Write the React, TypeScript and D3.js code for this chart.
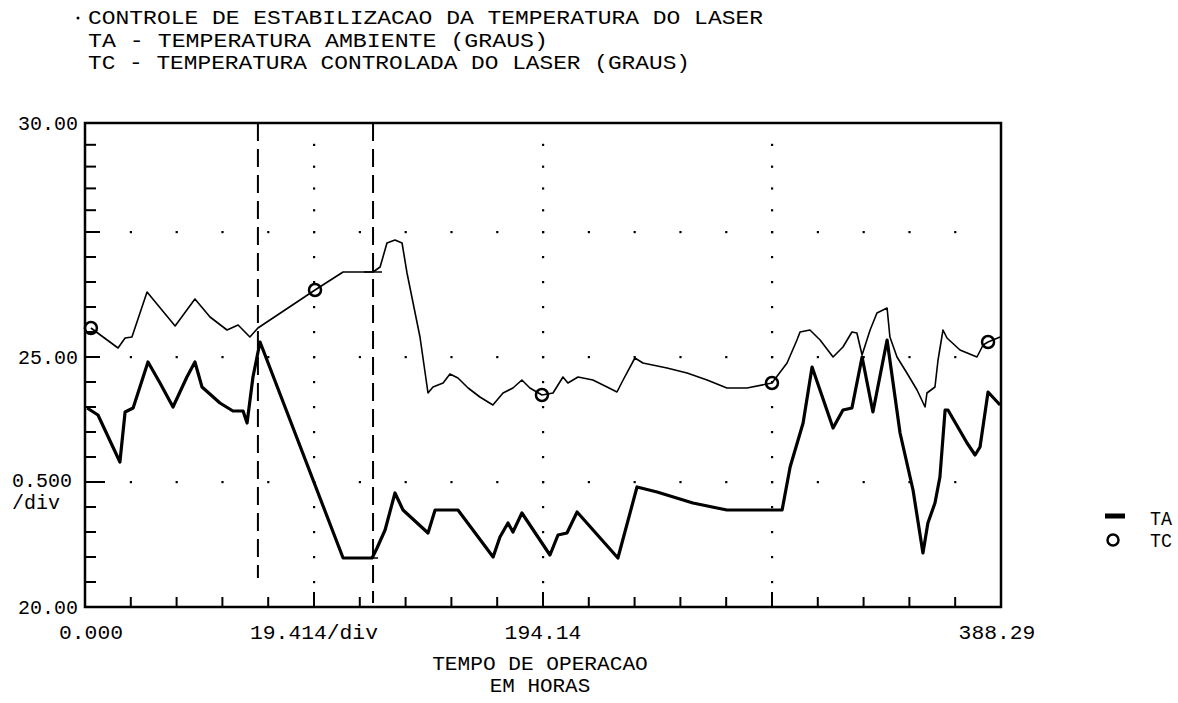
import React from "react";
import * as d3 from "d3";

const width = 1178;
const height = 703;
const plot = { left: 85, right: 1001, top: 123, bottom: 607 };

const titleLines = [
  "CONTROLE DE ESTABILIZACAO DA TEMPERATURA DO LASER",
  "TA - TEMPERATURA AMBIENTE (GRAUS)",
  "TC - TEMPERATURA CONTROLADA DO LASER (GRAUS)"
];
const xAxisTitle = ["TEMPO DE OPERACAO", "EM HORAS"];

const xMax = 388.29;
const xDiv = 19.414;
const yDiv = 0.5;
const xLabels = ["0.000", "19.414/div", "194.14", "388.29"];
const xLabelAt = [0, 97.07, 194.14, 388.29];
const yLabels = ["30.00", "25.00", "20.00"];
const yLabelAt = [30, 25, 20];
const cursors = [73.3, 122.1];

// TA - temperatura ambiente (hours, degrees)
const taHours = [0.9, 5.5, 14.8, 17.0, 20.4, 26.7, 31.8, 37.3, 43.2, 46.6, 49.6, 57.2, 62.7, 67.0, 68.7, 71.2, 74.2,
  109.4, 121.7, 123.8, 127.2, 131.4, 134.8, 145.4, 148.4, 158.1, 173.0, 175.9, 179.3, 181.4, 185.2, 197.1, 200.5,
  204.3, 208.6, 225.9, 234.0, 242.5, 257.7, 272.1, 295.5, 298.9, 304.4, 308.2, 317.1, 321.3, 325.1, 329.4, 334.0,
  340.0, 345.5, 351.0, 355.2, 357.3, 360.3, 362.4, 364.6, 365.8, 373.9, 377.3, 379.4, 382.8, 387.9];
const taTemp = [23.98, 23.84, 22.9, 23.9, 23.98, 24.9, 24.48, 24.0, 24.6, 24.9, 24.4, 24.08, 23.92, 23.92, 23.68, 24.6, 25.3,
  20.98, 20.98, 21.18, 21.54, 22.28, 21.94, 21.48, 21.94, 21.94, 21.0, 21.4, 21.68, 21.5, 21.88, 21.04, 21.44,
  21.48, 21.9, 20.98, 22.4, 22.3, 22.08, 21.94, 21.94, 22.8, 23.68, 24.8, 23.58, 23.94, 23.98, 25.0, 23.9,
  25.34, 23.48, 22.34, 21.08, 21.68, 22.08, 22.6, 23.94, 23.94, 23.28, 23.04, 23.2, 24.3, 24.04];

// TC - temperatura controlada do laser
const tcHours = [2.5, 14.0, 17.0, 19.9, 26.3, 38.2, 46.6, 53.0, 60.2, 64.9, 69.9, 73.3, 97.5, 109.4, 122.1, 125.1, 128.0,
  131.4, 134.4, 136.5, 142.0, 145.4, 147.5, 151.8, 154.7, 158.1, 162.4, 167.4, 172.9, 177.2, 181.4, 185.2, 188.6,
  193.7, 198.4, 202.6, 204.7, 209.0, 215.3, 221.3, 225.5, 228.1, 233.1, 236.5, 246.7, 255.2, 263.7, 272.1, 280.6,
  291.2, 297.6, 301.8, 303.1, 307.3, 311.6, 317.1, 321.3, 325.1, 327.2, 329.4, 332.8, 335.7, 340.0, 341.2, 344.2,
  348.4, 352.7, 356.1, 356.9, 360.3, 361.6, 363.7, 365.4, 370.9, 378.1, 380.7, 382.8, 387.9];
const tcTemp = [25.58, 25.18, 25.38, 25.4, 26.3, 25.62, 26.16, 25.8, 25.54, 25.64, 25.4, 25.58, 26.34, 26.7, 26.7, 26.8, 27.28,
  27.34, 27.28, 26.68, 25.4, 24.28, 24.4, 24.48, 24.66, 24.58, 24.38, 24.2, 24.04, 24.28, 24.38, 24.54, 24.38,
  24.24, 24.28, 24.6, 24.48, 24.6, 24.54, 24.4, 24.3, 24.54, 24.98, 24.88, 24.78, 24.68, 24.54, 24.38, 24.38,
  24.48, 24.88, 25.34, 25.5, 25.54, 25.34, 25.0, 25.2, 25.5, 25.48, 25.04, 25.54, 25.88, 25.98, 25.4, 25.0,
  24.68, 24.34, 24.0, 24.28, 24.4, 24.94, 25.54, 25.38, 25.14, 25.0, 25.24, 25.3, 25.4];
const tcMarkers = [0, 12, 33, 49, 76];

const font = "'Liberation Mono', 'DejaVu Sans Mono', monospace";

export default function App() {
  const x = d3.scaleLinear().domain([0, xMax]).range([plot.left, plot.right]);
  // the plotter's upper quarter is slightly compressed
  const y = d3.scaleLinear().domain([20, 27.5, 30]).range([plot.bottom, 232, plot.top]);

  const xTicks = d3.range(0, 21).map((i) => i * xDiv);
  const yTicks = d3.range(0, 21).map((i) => 20 + i * yDiv);

  const line = d3
    .line<[number, number]>()
    .x((d) => x(d[0]))
    .y((d) => y(d[1]));

  const ta = taHours.map((h, i) => [h, taTemp[i]] as [number, number]);
  const tc = tcHours.map((h, i) => [h, tcTemp[i]] as [number, number]);

  const gridX = [5, 10, 15].map((i) => i * xDiv);
  const gridY = [22.5, 25, 27.5];
  const dots: { cx: number; cy: number }[] = [];
  gridX.forEach((gx) => yTicks.slice(1, -1).forEach((t) => dots.push({ cx: x(gx), cy: y(t) })));
  gridY.forEach((gy) => xTicks.slice(1, -1).forEach((t) => dots.push({ cx: x(t), cy: y(gy) })));

  return (
    <svg width={width} height={height} style={{ position: "absolute", left: 0, top: 0, background: "#fff" }}>
      <circle cx={78} cy={18} r={1.5} fill="#000" />
      <g fontFamily={font} fontSize={20} fill="#000">
        {titleLines.map((t, i) => (
          <text key={i} x={88} y={24 + i * 22.5} textLength={[675, 460, 602][i]} lengthAdjust="spacingAndGlyphs">
            {t}
          </text>
        ))}
      </g>

      {/* grid dots */}
      {dots.map((d, i) => (
        <rect key={i} x={d.cx - 1} y={d.cy - 1} width={2.2} height={2.2} fill="#000" />
      ))}

      {/* cursors */}
      {cursors.map((c, i) => (
        <line key={i} x1={x(c)} x2={x(c)} y1={plot.top} y2={i === 0 ? 578 : plot.bottom - 4}
          stroke="#000" strokeWidth={2} strokeDasharray="18,8" />
      ))}
      <line x1={x(cursors[1]) - 9} x2={x(cursors[1]) + 9} y1={y(26.7)} y2={y(26.7)} stroke="#000" strokeWidth={1.5} />
      <line x1={x(cursors[1]) - 5} x2={x(cursors[1]) + 5} y1={y(20.98)} y2={y(20.98)} stroke="#000" strokeWidth={1.5} />

      {/* frame */}
      <rect x={plot.left} y={plot.top} width={plot.right - plot.left} height={plot.bottom - plot.top}
        fill="none" stroke="#000" strokeWidth={2.5} />

      {/* ticks */}
      {yTicks.slice(1, -1).map((t, i) => {
        const major = Math.abs(t - 22.5) < 1e-6;
        const mid = Math.abs(t - 25) < 1e-6 || Math.abs(t - 27.5) < 1e-6;
        return (
          <line key={i} x1={plot.left} x2={plot.left + (major ? 20 : mid ? 15 : 11)} y1={y(t)} y2={y(t)}
            stroke="#000" strokeWidth={2} />
        );
      })}
      {xTicks.slice(1, -1).map((t, i) => (
        <line key={i} x1={x(t)} x2={x(t)} y1={plot.bottom} y2={plot.bottom - ((i + 1) % 5 === 0 ? 15 : 10)}
          stroke="#000" strokeWidth={2} />
      ))}

      {/* series */}
      <path d={line(tc) || ""} fill="none" stroke="#000" strokeWidth={1.6} strokeLinejoin="round" />
      <path d={line(ta) || ""} fill="none" stroke="#000" strokeWidth={3.2} strokeLinejoin="round" />
      {tcMarkers.map((k) => (
        <circle key={k} cx={x(tc[k][0])} cy={y(tc[k][1])} r={6} fill="none" stroke="#000" strokeWidth={2.5} />
      ))}

      {/* axis labels */}
      <g fontFamily={font} fontSize={20} fill="#000">
        {yLabels.map((l, i) => (
          <text key={l} x={78} y={y(yLabelAt[i]) + 7} textAnchor="end" textLength={60} lengthAdjust="spacingAndGlyphs">
            {l}
          </text>
        ))}
        <text x={12} y={y(22.5) + 5} textLength={60} lengthAdjust="spacingAndGlyphs">0.500</text>
        <text x={12} y={y(22.5) + 27} textLength={48} lengthAdjust="spacingAndGlyphs">/div</text>
        {xLabels.map((l, i) => (
          <text key={l} x={i === 0 ? 91 : x(xLabelAt[i]) - (i === 3 ? 4 : 0)} y={639} textAnchor="middle"
            textLength={l.length * 12.8} lengthAdjust="spacingAndGlyphs">
            {l}
          </text>
        ))}
        {xAxisTitle.map((t, i) => (
          <text key={t} x={540} y={670 + i * 22} textAnchor="middle" textLength={t.length * 12.8 - 2}
            lengthAdjust="spacingAndGlyphs">
            {t}
          </text>
        ))}
      </g>

      {/* legend */}
      <line x1={1105} x2={1125} y1={516} y2={516} stroke="#000" strokeWidth={5} />
      <circle cx={1113} cy={540} r={5.5} fill="none" stroke="#000" strokeWidth={2.5} />
      <g fontFamily={font} fontSize={20} fill="#000">
        <text x={1150} y={525} textLength={22} lengthAdjust="spacingAndGlyphs">TA</text>
        <text x={1150} y={547} textLength={22} lengthAdjust="spacingAndGlyphs">TC</text>
      </g>
    </svg>
  );
}
